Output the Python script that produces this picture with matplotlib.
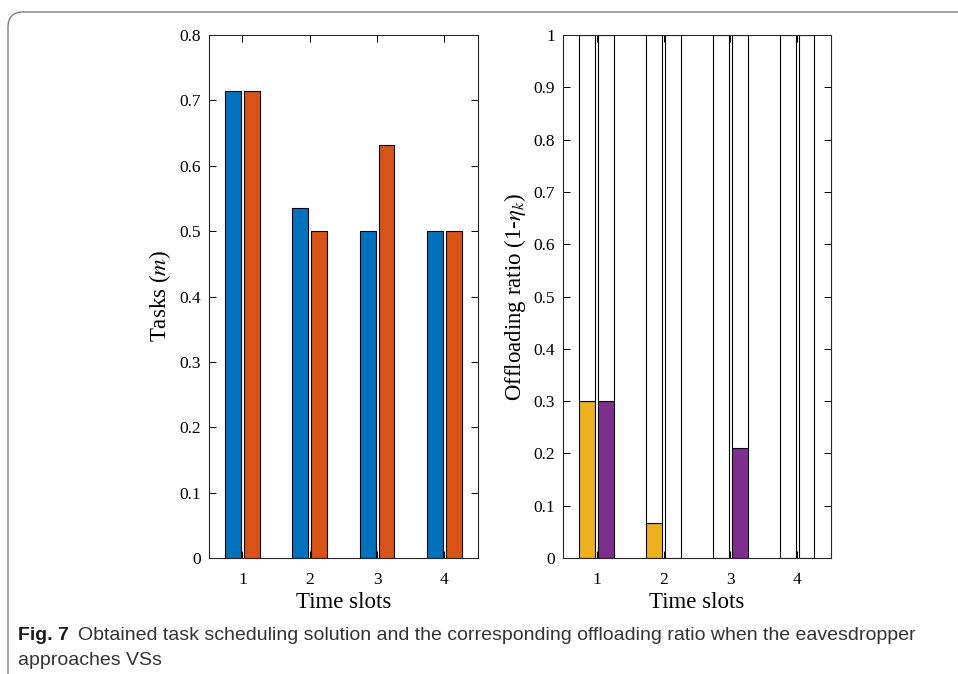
import matplotlib
matplotlib.use('Agg')
import matplotlib.pyplot as plt
import numpy as np
from matplotlib.patches import FancyBboxPatch

# data
slots = [1, 2, 3, 4]
tasks_a = [0.714, 0.536, 0.5, 0.5]
tasks_b = [0.714, 0.5, 0.632, 0.5]
ratio_a = [0.3, 0.068, 0.0, 0.0]
ratio_b = [0.3, 0.0, 0.21, 0.0]

c_blue = '#0072BD'
c_orange = '#D95319'
c_yellow = '#EDB120'
c_purple = '#7E2F8E'

plt.rcParams['font.family'] = ['Liberation Serif', 'DejaVu Serif']
plt.rcParams['mathtext.fontset'] = 'stix'

fig = plt.figure(figsize=(9.58, 6.74), dpi=100)
ax1 = fig.add_axes([0.218, 0.172, 0.281, 0.776])
ax2 = fig.add_axes([0.588, 0.172, 0.279, 0.776])

x = np.array(slots)
w = 0.236
off = 0.14

ax1.bar(x - off, tasks_a, w, color=c_blue, edgecolor='black', linewidth=0.8)
ax1.bar(x + off, tasks_b, w, color=c_orange, edgecolor='black', linewidth=0.8)
ax1.set_ylim(0, 0.8)
ax1.set_yticks(np.arange(0, 0.81, 0.1))
ax1.set_yticklabels(['0', '0.1', '0.2', '0.3', '0.4', '0.5', '0.6', '0.7', '0.8'])
ax1.set_ylabel('Tasks ($m$)', fontsize=16.5)

ra = np.array(ratio_a)
rb = np.array(ratio_b)
ax2.bar(x - off, ra, w, color=c_yellow, edgecolor='black', linewidth=0.8)
ax2.bar(x - off, 1 - ra, w, bottom=ra, color='white', edgecolor='black', linewidth=0.8)
ax2.bar(x + off, rb, w, color=c_purple, edgecolor='black', linewidth=0.8)
ax2.bar(x + off, 1 - rb, w, bottom=rb, color='white', edgecolor='black', linewidth=0.8)
ax2.set_ylim(0, 1)
ax2.set_yticks(np.arange(0, 1.01, 0.1))
ax2.set_yticklabels(['0', '0.1', '0.2', '0.3', '0.4', '0.5', '0.6', '0.7', '0.8', '0.9', '1'])
ax2.set_ylabel(r'Offloading ratio (1-$\eta_k$)', fontsize=16.5)

for ax in (ax1, ax2):
    ax.set_xlim(0.5, 4.5)
    ax.set_xticks(slots)
    ax.set_xlabel('Time slots', fontsize=16.5, labelpad=3)
    ax.tick_params(direction='in', top=True, right=True, length=5, width=0.7,
                   labelsize=12.5, pad=6)
    ax.tick_params(axis='x', pad=10)
    for s in ax.spines.values():
        s.set_linewidth(0.8)
        s.set_color('#262626')

# caption frame with rounded top-left corner
frame = FancyBboxPatch((0.08, -0.5), 10.0, 6.74 - 0.12 + 0.5,
                       boxstyle='round,pad=0,rounding_size=0.15',
                       transform=fig.dpi_scale_trans, facecolor='none',
                       edgecolor='#808080', linewidth=1.0)
fig.add_artist(frame)

cap_font = ['Liberation Sans Narrow', 'Liberation Sans', 'DejaVu Sans']
t1 = fig.text(18 / 958, 1 - 640 / 674, 'Fig. 7', fontsize=14, fontweight='bold',
              family=cap_font, color='#1a1a1a')
fig.canvas.draw()
bb = t1.get_window_extent(renderer=fig.canvas.get_renderer())
fig.text((bb.x1 + 9) / 958, 1 - 640 / 674,
         'Obtained task scheduling solution and the corresponding offloading ratio when the eavesdropper',
         fontsize=14, family=cap_font, color='#333333')
fig.text(18 / 958, 1 - 665 / 674, 'approaches VSs', fontsize=14, family=cap_font,
         color='#333333')

fig.savefig('out.png', dpi=100)
